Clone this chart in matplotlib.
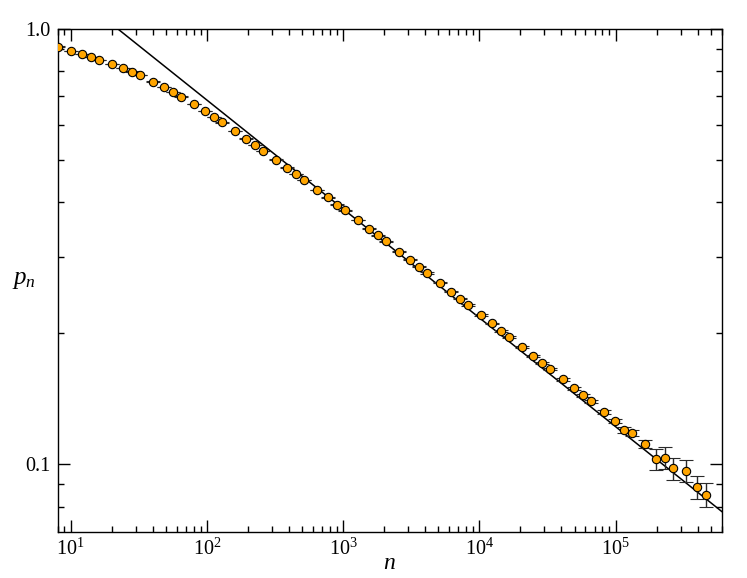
import matplotlib
matplotlib.use("Agg")
import matplotlib.pyplot as plt
import numpy as np
from matplotlib.ticker import LogLocator, FixedLocator, FixedFormatter, NullFormatter, LogFormatterMathtext

plt.rcParams['font.family'] = ['Liberation Serif', 'DejaVu Serif']
plt.rcParams['mathtext.fontset'] = 'custom'
plt.rcParams['mathtext.rm'] = 'Liberation Serif'
plt.rcParams['mathtext.it'] = 'Liberation Serif:italic'

# datos
n_vals = [8, 10, 12, 14, 16, 20, 24, 28, 32, 40, 48, 56, 64, 80, 96, 112,
          128, 160, 192, 224, 256, 320, 384, 448, 512, 640, 768, 896,
          1024, 1280, 1536, 1792, 2048, 2560, 3072, 3584, 4096, 5120, 6144, 7168,
          8192, 10240, 12288, 14336, 16384, 20480, 24576, 28672,
          32768, 40960, 49152, 57344, 65536, 81920, 98304, 114688,
          131072, 163840, 196608, 229376, 262144, 327680, 393216, 458752]
p_vals = [0.911, 0.891, 0.876, 0.862, 0.850, 0.831, 0.812, 0.798,
          0.783, 0.757, 0.736, 0.717, 0.699, 0.671, 0.648, 0.628,
          0.610, 0.583, 0.560, 0.542, 0.525, 0.501, 0.480, 0.464,
          0.450, 0.427, 0.410, 0.395, 0.383, 0.364, 0.348, 0.3355,
          0.325, 0.308, 0.295, 0.284, 0.275, 0.261, 0.249, 0.240,
          0.2323, 0.2204, 0.2106, 0.2025, 0.1959, 0.1855, 0.1774, 0.1709,
          0.1654, 0.1566, 0.1494, 0.1439, 0.1396, 0.1318, 0.1259, 0.1199,
          0.1178, 0.1113, 0.1028, 0.1036, 0.0979, 0.0967, 0.0886, 0.0852]
p_err = [0.0005, 0.0005, 0.0005, 0.0005, 0.0005, 0.0005, 0.0005, 0.0005,
         0.0005, 0.0005, 0.0005, 0.0005, 0.0005, 0.0005, 0.0005, 0.0005,
         0.0006, 0.0006, 0.0006, 0.0006, 0.0006, 0.0006, 0.0006, 0.0006,
         0.0006, 0.0006, 0.0006, 0.0006, 0.0006, 0.0006, 0.0006, 0.0006,
         0.0008, 0.0008, 0.0008, 0.0008, 0.0008, 0.0008, 0.0008, 0.0008,
         0.0008, 0.0008, 0.0008, 0.0008, 0.0008, 0.0010, 0.0010, 0.0010,
         0.0010, 0.0010, 0.0010, 0.0010, 0.0010, 0.0012, 0.0014, 0.0016,
         0.0018, 0.0022, 0.0058, 0.0058, 0.0057, 0.0056, 0.0055, 0.0054]

# ajuste p_n = A n^(-1/4)
fit_amp = 2.17
fit_exp = -0.25

fig = plt.figure(figsize=(7.47, 5.78), dpi=100)
ax = fig.add_axes([0.077, 0.080, 0.889, 0.870])

n_line = np.logspace(0.5, 6.5, 200)
ax.plot(n_line, fit_amp * n_line ** fit_exp, color='k', linewidth=1.1, zorder=2)

ax.errorbar(n_vals, p_vals, yerr=p_err, fmt='o', color='#2a2a2a',
            markerfacecolor='#FFA500', markeredgecolor='k', markeredgewidth=0.8,
            markersize=6, elinewidth=1.0, capsize=5, capthick=1.0, zorder=3)

ax.set_xscale('log')
ax.set_yscale('log')
ax.set_xlim(8, 6.0e5)
ax.set_ylim(0.07, 1.0)

ax.xaxis.set_major_locator(LogLocator(base=10, numticks=10))
ax.xaxis.set_major_formatter(LogFormatterMathtext())
ax.xaxis.set_minor_locator(LogLocator(base=10, subs=np.arange(2, 10), numticks=20))
ax.xaxis.set_minor_formatter(NullFormatter())

ax.yaxis.set_major_locator(FixedLocator([0.1, 1.0]))
ax.yaxis.set_major_formatter(FixedFormatter(['0.1', '1.0']))
ax.yaxis.set_minor_locator(FixedLocator([0.08, 0.09, 0.2, 0.3, 0.4, 0.5, 0.6, 0.7, 0.8, 0.9]))
ax.yaxis.set_minor_formatter(NullFormatter())

ax.tick_params(which='both', direction='in', top=True, right=True, width=1.0, labelsize=14.5)
ax.tick_params(which='major', length=8.5, pad=5)
ax.tick_params(which='minor', length=4.3)
for s in ax.spines.values():
    s.set_linewidth(1.0)

ax.set_xlabel('$n$', fontsize=17, va='center')
ax.xaxis.set_label_coords(0.5, -0.063)
ax.set_ylabel('$p_n$', fontsize=18, rotation=0, va='center')
ax.yaxis.set_label_coords(-0.05, 0.50)

fig.savefig('out.png', dpi=100)
